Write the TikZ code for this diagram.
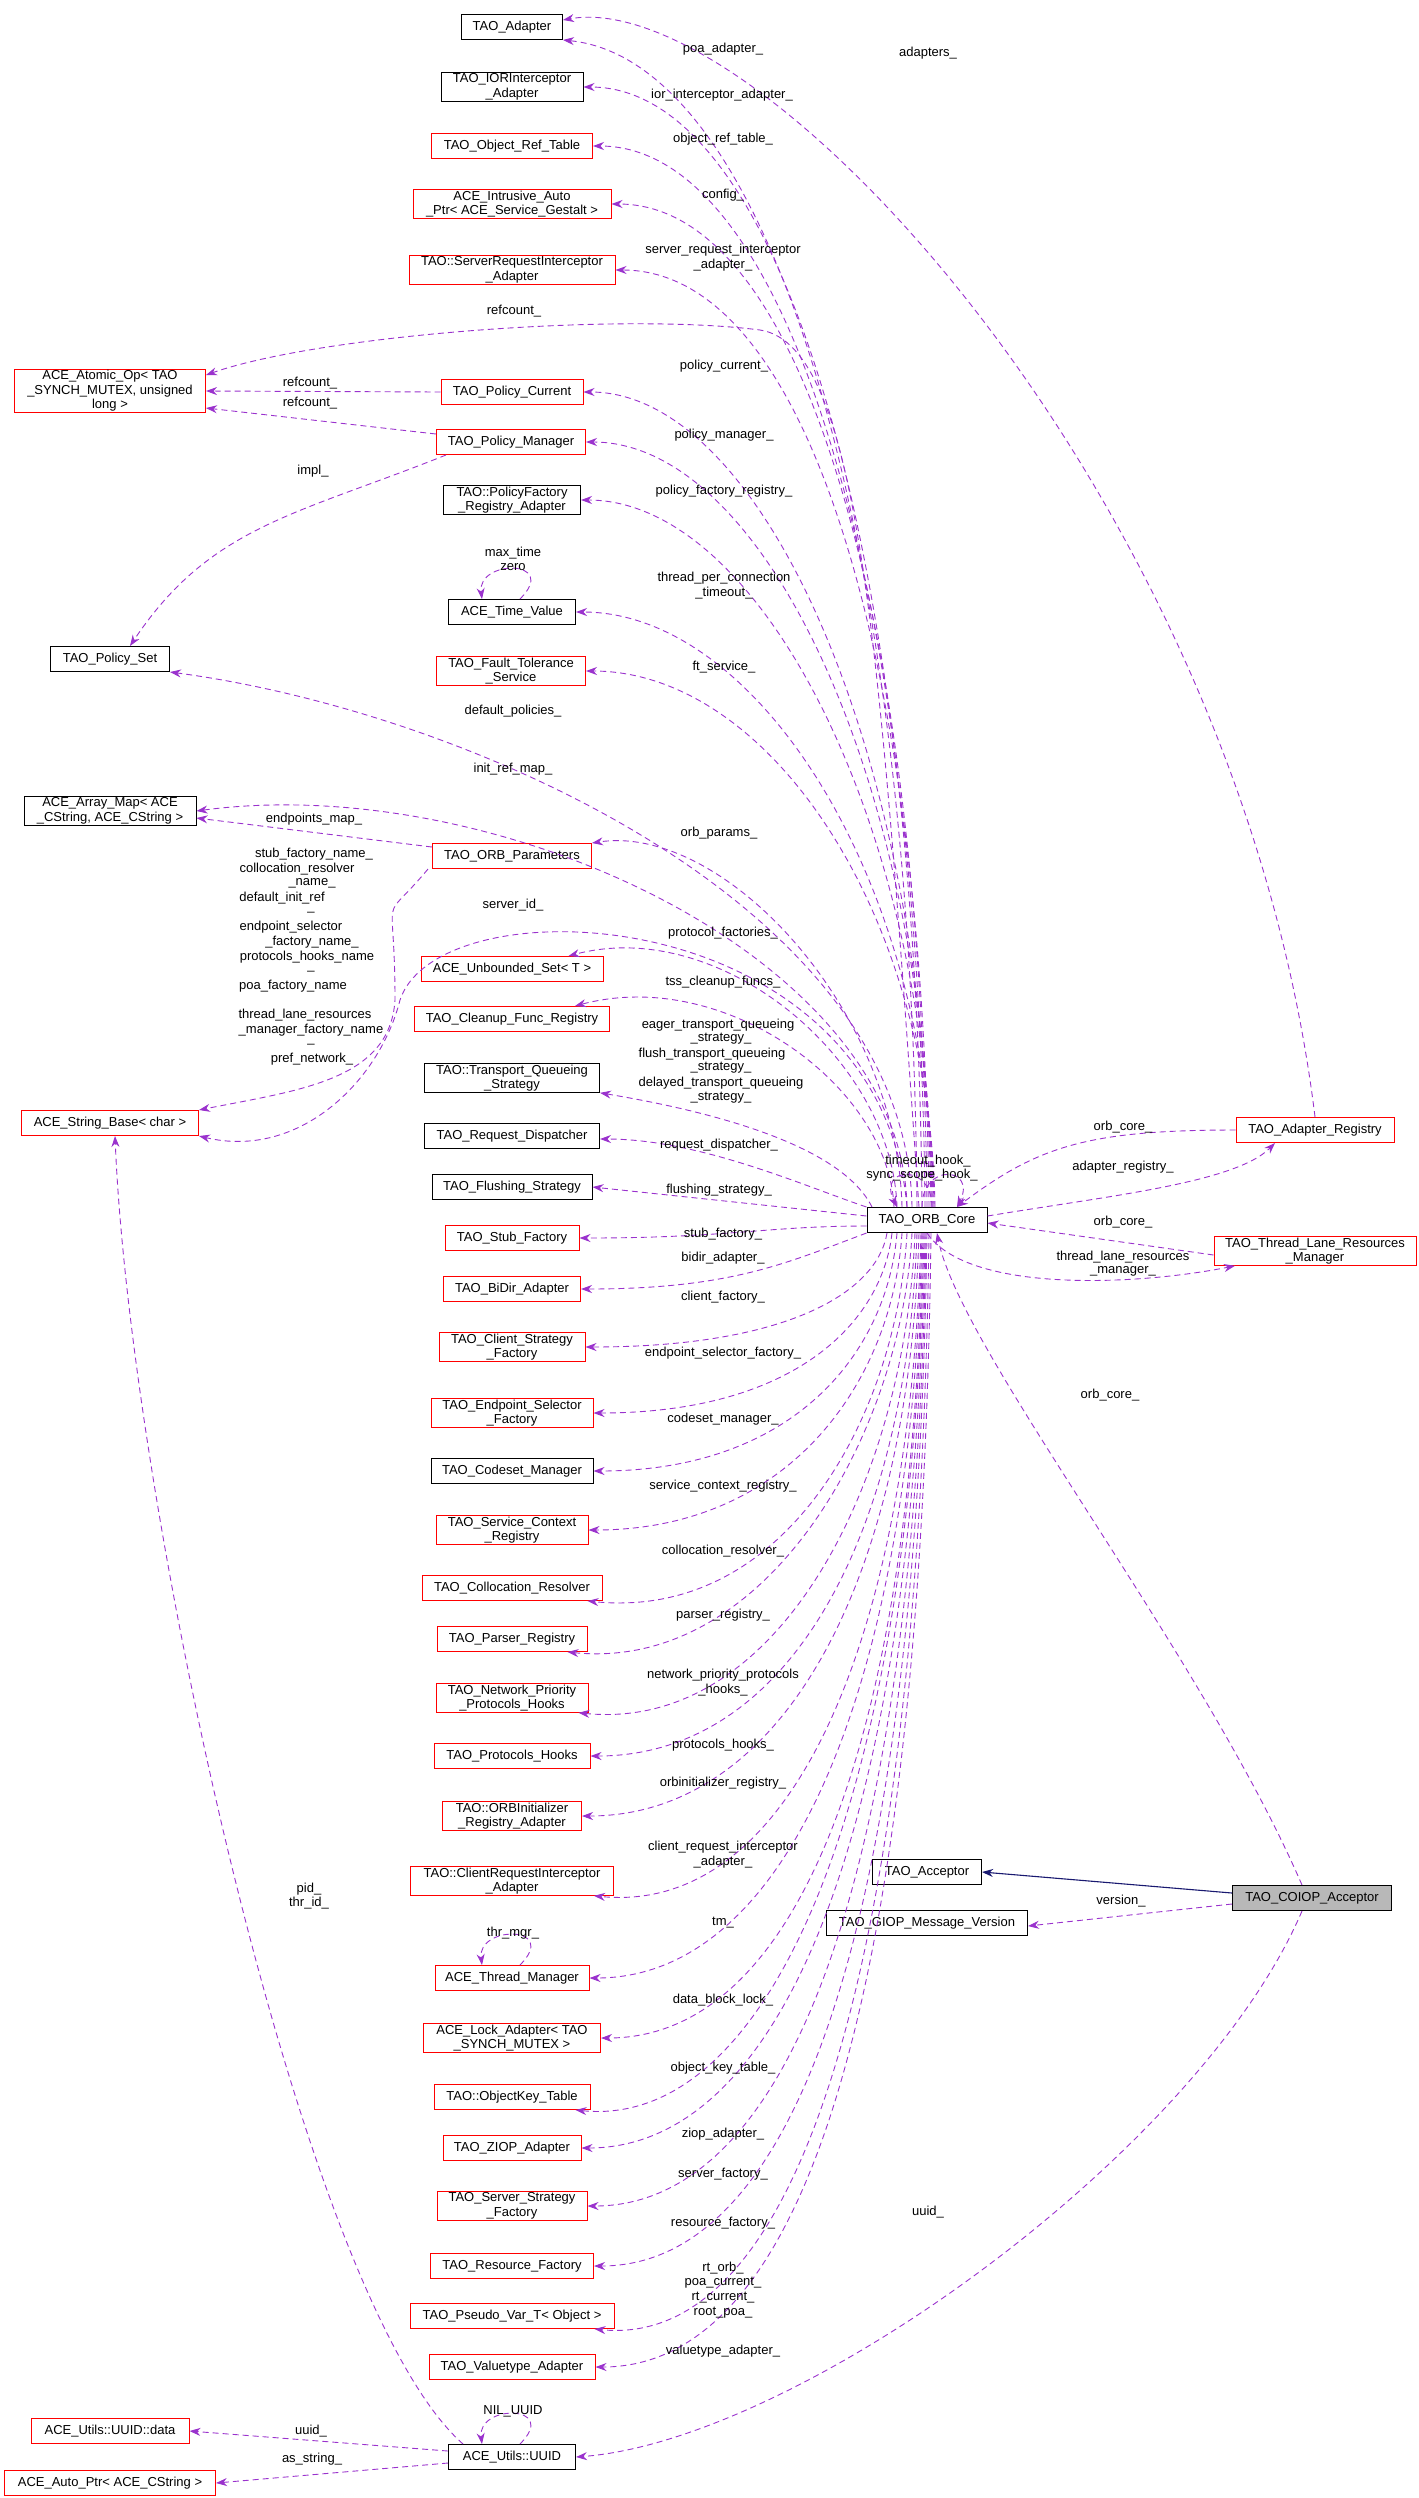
\documentclass[tikz,border=0pt]{standalone}
\usepackage{fontspec}
\setmainfont{Liberation Sans}
\usetikzlibrary{arrows.meta}
\definecolor{dep}{HTML}{9A32CD}
\definecolor{inh}{HTML}{191970}
\tikzset{
 cls/.style={draw=black,line width=1pt,fill=white,align=center,inner sep=1pt,minimum height=25pt,font=\fontsize{13}{14.5}\selectfont},
 rd/.style={cls,draw=red},
 bk/.style={cls},
 dep/.style={draw=dep,dashed,dash pattern=on 6pt off 4pt,line width=0.9pt,-{Stealth[length=11pt,width=8pt]}},
 inhe/.style={draw=inh,line width=1.1pt,-{Stealth[length=11pt,width=8pt]}},
 lab/.style={font=\fontsize{13}{14.5}\selectfont,inner sep=0pt,align=center}
}
\newcommand\cl[6]{\node[#1,minimum width=#5pt] (#2) at (#3,#4) {#6};}
\newcommand\lb[3]{\node[lab] at (#1,#2) {#3};}
\begin{document}
\begin{tikzpicture}[x=1pt,y=-1pt]
\useasboundingbox (0,0) rectangle (1419,2498);
% nodes
\cl{bk}{adapter}{512}{27}{101}{TAO\_Adapter}
\cl{bk}{ior}{512}{87}{142}{TAO\_IORInterceptor\\\_Adapter}
\cl{rd}{ortable}{512}{146}{161}{TAO\_Object\_Ref\_Table}
\cl{rd}{intr}{512}{204}{198}{ACE\_Intrusive\_Auto\\\_Ptr< ACE\_Service\_Gestalt >}
\cl{rd}{sria}{512}{270}{206}{TAO::ServerRequestInterceptor\\\_Adapter}
\cl{rd}{atomic}{110}{391}{191}{ACE\_Atomic\_Op< TAO\\\_SYNCH\_MUTEX, unsigned\\long >}
\cl{rd}{pcur}{512}{392}{142}{TAO\_Policy\_Current}
\cl{rd}{pman}{511}{442}{149}{TAO\_Policy\_Manager}
\cl{bk}{pfra}{512}{500}{137}{TAO::PolicyFactory\\\_Registry\_Adapter}
\cl{bk}{time}{512}{612}{127}{ACE\_Time\_Value}
\cl{bk}{pset}{110}{659}{119}{TAO\_Policy\_Set}
\cl{rd}{ft}{511}{671}{149}{TAO\_Fault\_Tolerance\\\_Service}
\cl{bk}{amap}{110}{811}{172}{ACE\_Array\_Map< ACE\\\_CString, ACE\_CString >}
\cl{rd}{orbp}{512}{856}{159}{TAO\_ORB\_Parameters}
\cl{rd}{uset}{512}{969}{182}{ACE\_Unbounded\_Set< T >}
\cl{rd}{cfr}{512}{1019}{195}{TAO\_Cleanup\_Func\_Registry}
\cl{bk}{tqs}{512}{1078}{175}{TAO::Transport\_Queueing\\\_Strategy}
\cl{rd}{sbase}{110}{1123}{177}{ACE\_String\_Base< char >}
\cl{bk}{rdisp}{512}{1136}{175}{TAO\_Request\_Dispatcher}
\cl{bk}{fs}{512}{1187}{160}{TAO\_Flushing\_Strategy}
\cl{bk}{core}{927}{1220}{120}{TAO\_ORB\_Core}
\cl{rd}{areg}{1315}{1130}{158}{TAO\_Adapter\_Registry}
\cl{rd}{tlrm}{1315}{1251}{202}{TAO\_Thread\_Lane\_Resources\\\_Manager}
\cl{rd}{sf}{512}{1238}{134}{TAO\_Stub\_Factory}
\cl{rd}{bidir}{512}{1289}{137}{TAO\_BiDir\_Adapter}
\cl{rd}{csf}{512}{1347}{146}{TAO\_Client\_Strategy\\\_Factory}
\cl{rd}{esf}{512}{1413}{162}{TAO\_Endpoint\_Selector\\\_Factory}
\cl{bk}{cm}{512}{1471}{162}{TAO\_Codeset\_Manager}
\cl{rd}{scr}{512}{1530}{152}{TAO\_Service\_Context\\\_Registry}
\cl{rd}{cr}{512}{1588}{180}{TAO\_Collocation\_Resolver}
\cl{rd}{pr}{512}{1639}{150}{TAO\_Parser\_Registry}
\cl{rd}{npph}{512}{1698}{152}{TAO\_Network\_Priority\\\_Protocols\_Hooks}
\cl{rd}{ph}{512}{1756}{156}{TAO\_Protocols\_Hooks}
\cl{rd}{orbi}{512}{1816}{139}{TAO::ORBInitializer\\\_Registry\_Adapter}
\cl{rd}{cria}{512}{1881}{203}{TAO::ClientRequestInterceptor\\\_Adapter}
\cl{rd}{thm}{512}{1978}{154}{ACE\_Thread\_Manager}
\cl{rd}{lock}{512}{2038}{177}{ACE\_Lock\_Adapter< TAO\\\_SYNCH\_MUTEX >}
\cl{rd}{okt}{512}{2097}{156}{TAO::ObjectKey\_Table}
\cl{rd}{ziop}{512}{2148}{138}{TAO\_ZIOP\_Adapter}
\cl{rd}{ssf}{512}{2206}{150}{TAO\_Server\_Strategy\\\_Factory}
\cl{rd}{rf}{512}{2266}{163}{TAO\_Resource\_Factory}
\cl{rd}{pvar}{512}{2316}{204}{TAO\_Pseudo\_Var\_T< Object >}
\cl{rd}{vta}{512}{2367}{166}{TAO\_Valuetype\_Adapter}
\cl{bk}{uuid}{512}{2457}{127}{ACE\_Utils::UUID}
\cl{rd}{data}{110}{2431}{158}{ACE\_Utils::UUID::data}
\cl{rd}{aptr}{110}{2483}{211}{ACE\_Auto\_Ptr< ACE\_CString >}
\cl{bk}{acc}{927}{1872}{109}{TAO\_Acceptor}
\cl{bk}{giop}{927}{1923}{201}{TAO\_GIOP\_Message\_Version}
\node[cls,fill=black!28,minimum width=159pt] (coiop) at (1312,1898) {TAO\_COIOP\_Acceptor};
% edges from core upward
\newcommand\up[5]{\draw[dep] ([xshift=#2]core.north) .. controls +(-5,-#3) and +(#4,#5) .. (#1);}
\up{adapter.south east}{-10}{700}{200}{20}
\up{ior.east}{-5}{650}{200}{0}
\up{ortable.east}{-2}{600}{200}{0}
\up{intr.east}{0}{560}{200}{0}
\up{sria.east}{2}{520}{200}{0}
\draw[dep] ([xshift=-8]core.north) .. controls (880,650) and (860,345) .. (760,330) .. controls (620,312) and (320,335) .. ([yshift=16]atomic.east);
\up{pcur.east}{4}{450}{180}{0}
\up{pman.east}{5}{420}{180}{0}
\up{pfra.east}{6}{380}{180}{0}
\up{time.east}{7}{330}{180}{0}
\up{pset.south east}{-15}{300}{300}{40}
\up{ft.east}{8}{300}{180}{0}
\up{amap.east}{-20}{250}{300}{-40}
\up{orbp.north east}{-25}{200}{130}{-20}
\up{[xshift=-35pt]uset.north east}{-30}{150}{150}{-40}
\up{[xshift=-35pt]cfr.north east}{-33}{120}{150}{-40}
\draw[dep] ([xshift=-55]core.north) .. controls +(-30,-60) and +(120,20) .. (tqs.south east);
\draw[dep] (core.north west) .. controls +(-60,-20) and +(100,0) .. ([yshift=-3]rdisp.east);
\draw[dep] ([yshift=4]core.west) -- (fs.east);
\draw[dep] ([xshift=-20]core.north) .. controls (880,900) and (440,880) .. (400,1000) .. controls (380,1080) and (300,1160) .. (sbase.south east);
% self loop of core
\draw[dep] ([xshift=5]core.north) .. controls +(0,-45) and +(-20,-40) .. ([xshift=-30]core.north);
\draw[dep] ([xshift=-5]core.north) .. controls +(0,-45) and +(20,-40) .. ([xshift=30]core.north);
% below core
\draw[dep] ([yshift=-6]core.west) .. controls +(-100,0) and +(150,0) .. (sf.east);
\draw[dep] (core.south west) .. controls +(-80,30) and +(150,0) .. (bidir.east);
\newcommand\dn[5]{\draw[dep] ([xshift=#2]core.south) .. controls +(-10,#3) and +(#4,#5) .. (#1);}
\dn{csf.east}{-40}{60}{200}{0}
\dn{esf.east}{-35}{90}{200}{0}
\dn{cm.east}{-30}{120}{200}{0}
\dn{scr.east}{-25}{150}{200}{0}
\dn{[xshift=-15pt]cr.south east}{-20}{180}{200}{20}
\dn{[xshift=-20pt]pr.south east}{-15}{200}{200}{20}
\dn{[xshift=-10pt]npph.south east}{-12}{250}{200}{20}
\dn{ph.east}{-10}{300}{200}{0}
\dn{orbi.east}{-8}{350}{200}{0}
\dn{[xshift=-20pt]cria.south east}{-6}{400}{200}{20}
\dn{thm.east}{-5}{450}{200}{0}
\dn{lock.east}{-4}{500}{200}{0}
\dn{[xshift=-15pt]okt.south east}{-3}{550}{200}{20}
\dn{ziop.east}{-2}{600}{200}{0}
\dn{ssf.east}{-1}{650}{200}{0}
\dn{rf.east}{0}{700}{200}{0}
\dn{[xshift=-20pt]pvar.south east}{2}{750}{200}{20}
\dn{vta.east}{4}{800}{200}{0}
% other edges
\draw[dep] (pcur.west) -- (atomic.east);
\draw[dep] ([yshift=-5]pman.north west) -- ([yshift=-17]atomic.east);
\draw[dep] ([xshift=10]pman.south west) .. controls +(-150,60) and +(80,-120) .. ([xshift=20]pset.north);
\draw[dep] ([yshift=-4]orbp.north west) -- ([yshift=-7]amap.east);
\draw[dep] ([xshift=-4]orbp.south west) .. controls +(-50,60) and +(0,-120) .. (395,1000) .. controls (390,1080) and (300,1090) .. (sbase.north east);
\draw[dep] ([xshift=8]time.north) .. controls +(40,-40) and +(-5,-40) .. ([xshift=-30]time.north);
\draw[dep] ([xshift=8]thm.north) .. controls +(40,-40) and +(-5,-40) .. ([xshift=-30]thm.north);
\draw[dep] ([xshift=8]uuid.north) .. controls +(40,-40) and +(-5,-40) .. ([xshift=-30]uuid.north);
\draw[dep] ([xshift=15]uuid.north west) .. controls (300,2300) and (130,1500) .. ([xshift=5]sbase.south);
\draw[dep] ([yshift=6]uuid.west) -- (data.east);
\draw[dep] ([yshift=-6]uuid.west) -- (aptr.east);
\draw[dep] (areg.west) .. controls +(-150,0) and +(80,-60) .. ([xshift=30]core.north);
\draw[dep] ([yshift=4]core.east) .. controls +(120,-20) and +(-40,40) .. ([xshift=-40]areg.south);
\draw[dep] ([yshift=-4]tlrm.west) -- ([yshift=-3]core.east);
\draw[dep] ([xshift=0]core.south) .. controls +(40,60) and +(-100,20) .. ([xshift=-80]tlrm.south);
\draw[dep] (areg.north) .. controls (1240,500) and (760,-15) .. ([yshift=7]adapter.east);
\draw[inhe] ([yshift=5]coiop.west) -- (acc.east);
\draw[dep] ([yshift=-6]coiop.west) -- ([yshift=-3]giop.east);
\draw[dep] ([xshift=-10]coiop.north) .. controls (1200,1650) and (960,1350) .. ([xshift=10]core.south);
\draw[dep] ([xshift=-10]coiop.south) .. controls (1200,2150) and (800,2440) .. (uuid.east);
% labels
\lb{723}{49}{poa\_adapter\_}
\lb{928}{53}{adapters\_}
\lb{722}{95}{ior\_interceptor\_adapter\_}
\lb{723}{139}{object\_ref\_table\_}
\lb{723}{195}{config\_}
\lb{723}{250}{server\_request\_interceptor}
\lb{723}{265}{\_adapter\_}
\lb{514}{311}{refcount\_}
\lb{310}{383}{refcount\_}
\lb{310}{403}{refcount\_}
\lb{724}{366}{policy\_current\_}
\lb{724}{435}{policy\_manager\_}
\lb{313}{471}{impl\_}
\lb{724}{491}{policy\_factory\_registry\_}
\lb{513}{553}{max\_time}
\lb{513}{567}{zero}
\lb{724}{578}{thread\_per\_connection}
\lb{724}{593}{\_timeout\_}
\lb{724}{667}{ft\_service\_}
\lb{513}{711}{default\_policies\_}
\lb{513}{769}{init\_ref\_map\_}
\lb{314}{819}{endpoints\_map\_}
\lb{719}{833}{orb\_params\_}
\lb{314}{854}{stub\_factory\_name\_}
\lb{297}{869}{collocation\_resolver}
\lb{312}{883}{\_name\_}
\lb{282}{898}{default\_init\_ref}
\lb{311}{912}{\_}
\lb{291}{927}{endpoint\_selector}
\lb{312}{942}{\_factory\_name\_}
\lb{307}{957}{protocols\_hooks\_name}
\lb{311}{971}{\_}
\lb{293}{986}{poa\_factory\_name}
\lb{305}{1015}{thread\_lane\_resources}
\lb{311}{1030}{\_manager\_factory\_name}
\lb{311}{1044}{\_}
\lb{312}{1059}{pref\_network\_}
\lb{513}{905}{server\_id\_}
\lb{723}{933}{protocol\_factories\_}
\lb{723}{982}{tss\_cleanup\_funcs\_}
\lb{718}{1025}{eager\_transport\_queueing}
\lb{721}{1039}{\_strategy\_}
\lb{712}{1054}{flush\_transport\_queueing}
\lb{721}{1068}{\_strategy\_}
\lb{721}{1083}{delayed\_transport\_queueing}
\lb{721}{1098}{\_strategy\_}
\lb{719}{1145}{request\_dispatcher\_}
\lb{719}{1190}{flushing\_strategy\_}
\lb{928}{1161}{timeout\_hook\_}
\lb{922}{1175}{sync\_scope\_hook\_}
\lb{1123}{1127}{orb\_core\_}
\lb{1123}{1167}{adapter\_registry\_}
\lb{1123}{1222}{orb\_core\_}
\lb{1123}{1257}{thread\_lane\_resources}
\lb{1123}{1271}{\_manager\_}
\lb{723}{1234}{stub\_factory\_}
\lb{723}{1258}{bidir\_adapter\_}
\lb{723}{1297}{client\_factory\_}
\lb{723}{1353}{endpoint\_selector\_factory\_}
\lb{723}{1419}{codeset\_manager\_}
\lb{723}{1486}{service\_context\_registry\_}
\lb{723}{1551}{collocation\_resolver\_}
\lb{723}{1615}{parser\_registry\_}
\lb{723}{1675}{network\_priority\_protocols}
\lb{723}{1690}{\_hooks\_}
\lb{723}{1745}{protocols\_hooks\_}
\lb{723}{1783}{orbinitializer\_registry\_}
\lb{723}{1847}{client\_request\_interceptor}
\lb{723}{1862}{\_adapter\_}
\lb{309}{1889}{pid\_}
\lb{309}{1903}{thr\_id\_}
\lb{723}{1923}{tm\_}
\lb{513}{1933}{thr\_mgr\_}
\lb{723}{2000}{data\_block\_lock\_}
\lb{723}{2068}{object\_key\_table\_}
\lb{723}{2134}{ziop\_adapter\_}
\lb{723}{2174}{server\_factory\_}
\lb{723}{2223}{resource\_factory\_}
\lb{928}{2212}{uuid\_}
\lb{723}{2268}{rt\_orb\_}
\lb{723}{2283}{poa\_current\_}
\lb{723}{2298}{rt\_current\_}
\lb{723}{2313}{root\_poa\_}
\lb{723}{2351}{valuetype\_adapter\_}
\lb{513}{2411}{NIL\_UUID}
\lb{311}{2431}{uuid\_}
\lb{312}{2459}{as\_string\_}
\lb{1121}{1901}{version\_}
\lb{1110}{1395}{orb\_core\_}
\end{tikzpicture}
\end{document}
